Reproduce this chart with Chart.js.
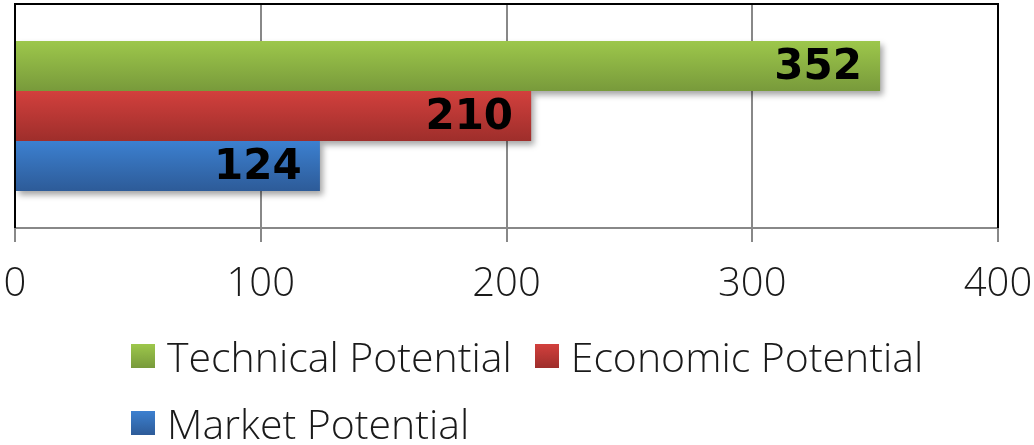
<!DOCTYPE html>
<html lang="en">
<head>
    <meta charset="UTF-8">
    <title>Potential</title>
    <script src="https://cdn.jsdelivr.net/npm/chart.js"></script>
    <style>
        body {
            margin: 0;
            padding: 0;
            background: #fff;
        }
        .wrap {
            position: relative;
            width: 1034px;
            height: 445px;
        }
        #legend {
            position: absolute;
            left: 131px;
            top: 322px;
            width: 840px;
            display: flex;
            flex-wrap: wrap;
            font-family: 'Open Sans', sans-serif;
            font-weight: 300;
            font-size: 41px;
            color: #1a1a1a;
        }
        .item {
            display: flex;
            align-items: center;
            height: 67px;
            margin-right: 23px;
            white-space: nowrap;
        }
        .box {
            width: 24px;
            height: 24px;
            margin-right: 12px;
        }
    </style>
</head>
<body>
    <div class="wrap">
        <canvas id="potChart" width="1034" height="445"></canvas>
        <div id="legend"></div>
    </div>

    <script>
        const categories = [''];
        const seriesNames = ['Technical Potential', 'Economic Potential', 'Market Potential'];
        const technical = [352];
        const economic = [210];
        const market = [124];
        const xTicks = [0, 100, 200, 300, 400];

        // top and bottom colours of each bar's vertical gradient
        const shades = [
            ['#9dc74b', '#789a3b'],
            ['#d2403d', '#9e2e2b'],
            ['#3c80d0', '#2d5b98']
        ];

        const gradientBars = {
            id: 'gradientBars',
            beforeDatasetsDraw(chart) {
                const ctx = chart.ctx;
                chart.data.datasets.forEach((ds, i) => {
                    chart.getDatasetMeta(i).data.forEach(el => {
                        const top = el.y - el.height / 2;
                        const g = ctx.createLinearGradient(0, top, 0, top + el.height);
                        g.addColorStop(0, shades[i][0]);
                        g.addColorStop(1, shades[i][1]);
                        el.options = Object.assign({}, el.options, { backgroundColor: g });
                    });
                });
                // soft drop shadow, covered again where bars overlap
                ctx.save();
                ctx.shadowColor = 'rgba(0,0,0,0.35)';
                ctx.shadowBlur = 6;
                ctx.shadowOffsetX = 3;
                ctx.shadowOffsetY = 4;
                chart.data.datasets.forEach((ds, i) => {
                    chart.getDatasetMeta(i).data.forEach(el => el.draw(ctx));
                });
                ctx.restore();
            }
        };

        const valueLabels = {
            id: 'valueLabels',
            afterDatasetsDraw(chart) {
                const ctx = chart.ctx;
                ctx.save();
                ctx.font = 'bold 42px "DejaVu Sans"';
                ctx.fillStyle = '#000';
                ctx.textAlign = 'right';
                ctx.textBaseline = 'middle';
                chart.data.datasets.forEach((ds, i) => {
                    chart.getDatasetMeta(i).data.forEach((el, j) => {
                        ctx.fillText(ds.data[j], el.x - 18, el.y + 2);
                    });
                });
                ctx.restore();
            }
        };

        const frame = {
            id: 'frame',
            afterDraw(chart) {
                const { left, right, top, bottom } = chart.chartArea;
                const ctx = chart.ctx;
                ctx.save();
                ctx.strokeStyle = '#000';
                ctx.lineWidth = 2;
                ctx.beginPath();
                ctx.moveTo(left, bottom);
                ctx.lineTo(left, top);
                ctx.lineTo(right, top);
                ctx.lineTo(right, bottom);
                ctx.stroke();
                ctx.restore();
            }
        };

        const chart = new Chart(document.getElementById('potChart'), {
            type: 'bar',
            data: {
                labels: categories,
                datasets: [
                    { label: seriesNames[0], data: technical, backgroundColor: shades[0][0] },
                    { label: seriesNames[1], data: economic, backgroundColor: shades[1][0] },
                    { label: seriesNames[2], data: market, backgroundColor: shades[2][0] }
                ]
            },
            options: {
                indexAxis: 'y',
                responsive: false,
                animation: false,
                datasets: {
                    bar: { barPercentage: 1, categoryPercentage: 0.67 }
                },
                layout: {
                    padding: { left: 15, right: 36, top: 4, bottom: 117 }
                },
                plugins: {
                    legend: { display: false },
                    tooltip: { enabled: false }
                },
                scales: {
                    x: {
                        min: xTicks[0],
                        max: xTicks[xTicks.length - 1],
                        afterBuildTicks: axis => { axis.ticks = xTicks.map(v => ({ value: v })); },
                        afterFit: axis => { axis.paddingLeft = 0; axis.paddingRight = 0; },
                        grid: { color: '#888', lineWidth: 2, tickLength: 14 },
                        border: { color: '#888', width: 2 },
                        ticks: {
                            padding: 19,
                            color: '#1a1a1a',
                            maxRotation: 0,
                            font: { family: 'Open Sans', weight: 300, size: 40 }
                        }
                    },
                    y: { display: false }
                }
            },
            plugins: [gradientBars, valueLabels, frame]
        });

        // legend built from the chart's own datasets
        const legendEl = document.getElementById('legend');
        chart.data.datasets.forEach((ds, i) => {
            const item = document.createElement('div');
            item.className = 'item';
            const box = document.createElement('span');
            box.className = 'box';
            box.style.background = 'linear-gradient(' + shades[i][0] + ', ' + shades[i][1] + ')';
            const txt = document.createElement('span');
            txt.textContent = ds.label;
            item.appendChild(box);
            item.appendChild(txt);
            legendEl.appendChild(item);
        });
    </script>
</body>
</html>
